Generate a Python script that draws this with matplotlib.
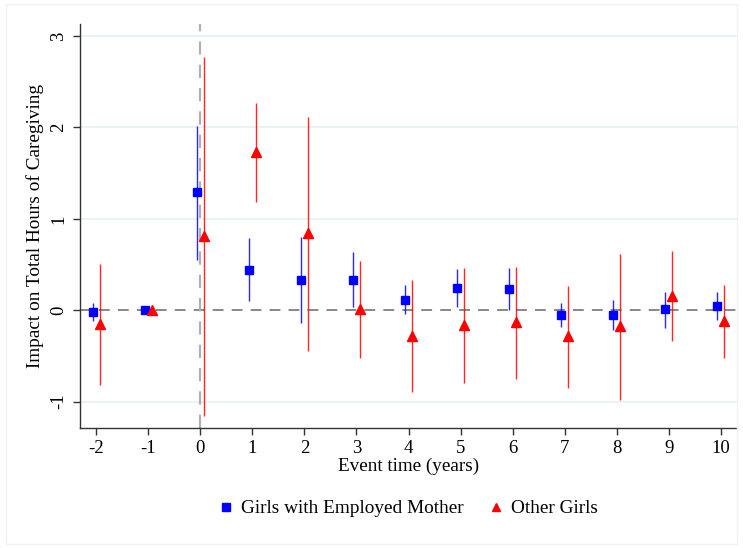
import numpy as np
import matplotlib.pyplot as plt
from matplotlib.lines import Line2D

plt.rcParams["font.family"] = ["Liberation Serif", "DejaVu Serif"]
plt.rcParams["axes.unicode_minus"] = False

event_time = [-2, -1, 0, 1, 2, 3, 4, 5, 6, 7, 8, 9, 10]

# girls with employed mother
emp_coef = [-0.02, 0.0, 1.29, 0.445, 0.335, 0.335, 0.117, 0.245, 0.23, -0.047, -0.055, 0.01, 0.047]
emp_lo = [-0.12, 0.0, 0.55, 0.10, -0.135, 0.036, -0.04, 0.036, 0.0, -0.18, -0.22, -0.19, -0.106]
emp_hi = [0.08, 0.0, 2.02, 0.79, 0.80, 0.64, 0.28, 0.45, 0.46, 0.08, 0.117, 0.20, 0.197]

# other girls
oth_coef = [-0.15, 0.0, 0.81, 1.73, 0.84, 0.015, -0.28, -0.16, -0.125, -0.28, -0.17, 0.157, -0.113]
oth_lo = [-0.82, 0.0, -1.16, 1.18, -0.45, -0.525, -0.89, -0.80, -0.75, -0.85, -0.98, -0.34, -0.52]
oth_hi = [0.51, 0.0, 2.77, 2.27, 2.12, 0.54, 0.335, 0.46, 0.47, 0.27, 0.62, 0.65, 0.277]

shift = 0.07
blue = "#0000ff"
red = "#ff0000"

fig = plt.figure(figsize=(7.43, 5.48), dpi=100)
ax = fig.add_axes([0.1077, 0.219, 0.8842, 0.737])

# light horizontal grid, zero handled by the dashed reference line
for yv in [-1, 1, 2, 3]:
    ax.axhline(yv, color="#e8f0f2", lw=1.2, zorder=0)
ax.axhline(0, color="#7f7f7f", lw=1.3, ls=(0, (6, 4.5)), zorder=1)
ax.axvline(0, color="#b0b0b0", lw=1.6, ls=(0, (6, 4.5)), zorder=1)

t = np.array(event_time, dtype=float)
for xs, c, lo, hi in [(t - shift, blue, emp_lo, emp_hi), (t + shift, red, oth_lo, oth_hi)]:
    ax.vlines(xs, lo, hi, color=c, lw=1.0, alpha=0.85, zorder=2)

ax.plot(t - shift, emp_coef, ls="none", marker="s", ms=6, color=blue, zorder=3)
ax.plot(t + shift, oth_coef, ls="none", marker="^", ms=7, color=red, zorder=3)

ax.set_xlim(-2.31, 10.31)
ax.set_ylim(-1.288, 3.131)
ax.set_xticks(event_time)
ax.set_yticks([-1, 0, 1, 2, 3])
ax.tick_params(axis="both", direction="out", length=5, width=1, color="#333333",
               labelsize=13.5, pad=4)
for lab in ax.get_yticklabels():
    lab.set_rotation(90)
    lab.set_va("center")

for s in ["top", "right"]:
    ax.spines[s].set_visible(False)
for s in ["left", "bottom"]:
    ax.spines[s].set_color("#333333")
    ax.spines[s].set_linewidth(1.0)

ax.set_xlabel("Event time (years)", fontsize=13.8, labelpad=0)
ax.set_ylabel("Impact on Total Hours of Caregiving", fontsize=13.9, labelpad=5)

handles = [
    Line2D([], [], ls="none", marker="s", ms=6, color=blue),
    Line2D([], [], ls="none", marker="^", ms=6, color=red),
]
fig.legend(handles, ["Girls with Employed Mother", "Other Girls"], loc="center",
           bbox_to_anchor=(0.548, 0.072), ncol=2, frameon=False, fontsize=13.9,
           handletextpad=0.25, columnspacing=1.2, handlelength=1.0)

fig.patches.append(plt.Rectangle((0.008, 0.008), 0.984, 0.984, transform=fig.transFigure,
                                 fill=False, ec="#f2f2f2", lw=1))

fig.savefig("out.png", dpi=100)
